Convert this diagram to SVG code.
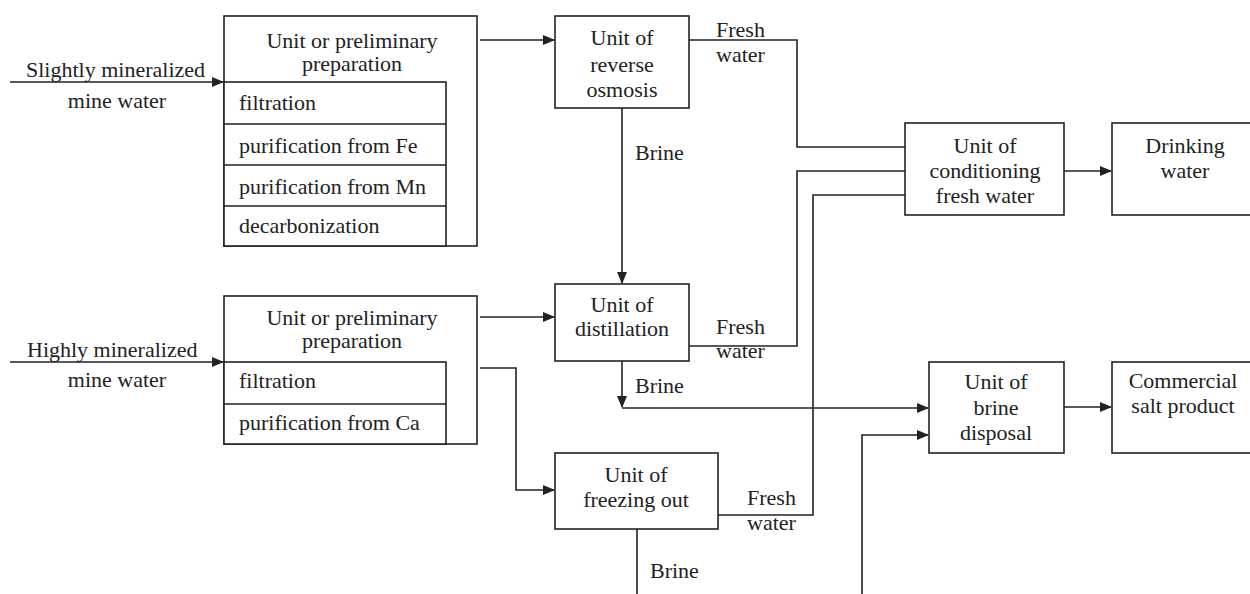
<svg xmlns="http://www.w3.org/2000/svg" width="1250" height="594" viewBox="0 0 1250 594">
<style>
.b{fill:#fff;stroke:#222;stroke-width:1.6}
.l{fill:none;stroke:#222;stroke-width:1.6}
text{font-family:"Liberation Serif","Times New Roman",serif;font-size:22px;fill:#222}
.c{text-anchor:middle}
</style>
<defs>
<marker id="a" markerWidth="12" markerHeight="10" refX="11" refY="5" orient="auto" markerUnits="userSpaceOnUse">
<path d="M0,0 L12,5 L0,10 Z" fill="#222"/>
</marker>
</defs>
<rect width="1250" height="594" fill="#fff"/>
<g id="connectors">
<path class="l" d="M10,82 H223" marker-end="url(#a)"/>
<path class="l" d="M10,362 H223" marker-end="url(#a)"/>
<path class="l" d="M480,40 H554" marker-end="url(#a)"/>
<path class="l" d="M480,317 H554" marker-end="url(#a)"/>
<path class="l" d="M480,368 H516 V490 H554" marker-end="url(#a)"/>
<path class="l" d="M622,108 V283" marker-end="url(#a)"/>
<path class="l" d="M689,40 H797 V147 H905"/>
<path class="l" d="M689,346 H797 V171 H905"/>
<path class="l" d="M718,515 H813 V195 H905"/>
<path class="l" d="M622,361 V407" marker-end="url(#a)"/>
<path class="l" d="M622,408 H928" marker-end="url(#a)"/>
<path class="l" d="M637,529 V597 H862 V435 H928" marker-end="url(#a)"/>
<path class="l" d="M1064,171 H1111" marker-end="url(#a)"/>
<path class="l" d="M1064,407 H1111" marker-end="url(#a)"/>
<text x="26" y="77">Slightly mineralized</text>
<text x="117" y="108" class="c">mine water</text>
<text x="27" y="357">Highly mineralized</text>
<text x="117" y="387" class="c">mine water</text>
<text x="716" y="37">Fresh</text>
<text x="716" y="62">water</text>
<text x="635" y="160">Brine</text>
<text x="716" y="334">Fresh</text>
<text x="716" y="358">water</text>
<text x="635" y="393">Brine</text>
<text x="747" y="505">Fresh</text>
<text x="747" y="530">water</text>
<text x="650" y="578">Brine</text>
</g>
<g id="prep1">
<rect class="b" x="224" y="16" width="253" height="230"/>
<rect class="b" x="224" y="82" width="222" height="164"/>
<path class="l" d="M224,124 H446 M224,165 H446 M224,206 H446"/>
<text x="352" y="48" class="c">Unit or preliminary</text>
<text x="352" y="71" class="c">preparation</text>
<text x="239" y="110">filtration</text>
<text x="239" y="153">purification from Fe</text>
<text x="239" y="194">purification from Mn</text>
<text x="239" y="233">decarbonization</text>
</g>
<g id="prep2">
<rect class="b" x="224" y="296" width="253" height="148"/>
<rect class="b" x="224" y="362" width="222" height="82"/>
<path class="l" d="M224,404 H446"/>
<text x="352" y="325" class="c">Unit or preliminary</text>
<text x="352" y="348" class="c">preparation</text>
<text x="239" y="388">filtration</text>
<text x="239" y="430">purification from Ca</text>
</g>
<g id="ro">
<rect class="b" x="555" y="16" width="134" height="92"/>
<text x="622" y="45" class="c">Unit of</text>
<text x="622" y="72" class="c">reverse</text>
<text x="622" y="97" class="c">osmosis</text>
</g>
<g id="distillation">
<rect class="b" x="555" y="284" width="134" height="77"/>
<text x="622" y="312" class="c">Unit of</text>
<text x="622" y="336" class="c">distillation</text>
</g>
<g id="freezing">
<rect class="b" x="555" y="453" width="163" height="76"/>
<text x="636" y="482" class="c">Unit of</text>
<text x="636" y="507" class="c">freezing out</text>
</g>
<g id="conditioning">
<rect class="b" x="905" y="123" width="159" height="92"/>
<text x="985" y="153" class="c">Unit of</text>
<text x="985" y="178" class="c">conditioning</text>
<text x="985" y="203" class="c">fresh water</text>
</g>
<g id="drinking">
<rect class="b" x="1112" y="123" width="145" height="92"/>
<text x="1185" y="153" class="c">Drinking</text>
<text x="1185" y="178" class="c">water</text>
</g>
<g id="brine-disposal">
<rect class="b" x="929" y="362" width="135" height="91"/>
<text x="996" y="389" class="c">Unit of</text>
<text x="996" y="415" class="c">brine</text>
<text x="996" y="440" class="c">disposal</text>
</g>
<g id="salt">
<rect class="b" x="1112" y="362" width="145" height="91"/>
<text x="1183" y="388" class="c">Commercial</text>
<text x="1183" y="413" class="c">salt product</text>
</g>
</svg>
